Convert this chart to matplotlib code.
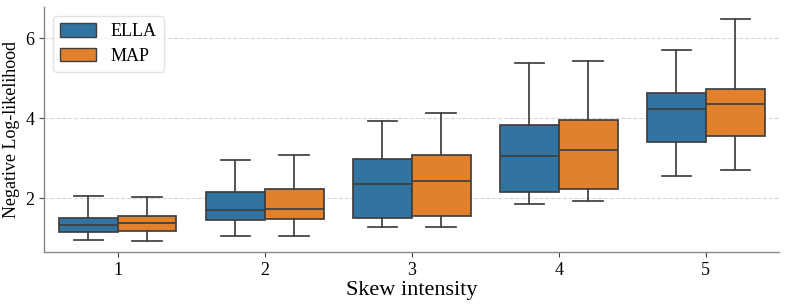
import matplotlib
matplotlib.use("Agg")
import matplotlib.pyplot as plt
from matplotlib.patches import Patch

plt.rcParams['font.family'] = ['Liberation Serif', 'DejaVu Serif']

categories = ["1", "2", "3", "4", "5"]
series = ["ELLA", "MAP"]
colors = ["#3274a1", "#e1812c"]

# whislo, q1, med, q3, whishi per category
ella_whislo = [0.96, 1.04, 1.27, 1.86, 2.56]
ella_q1     = [1.15, 1.44, 1.51, 2.15, 3.41]
ella_med    = [1.32, 1.69, 2.35, 3.06, 4.22]
ella_q3     = [1.49, 2.16, 2.98, 3.83, 4.62]
ella_whishi = [2.04, 2.94, 3.94, 5.38, 5.70]

map_whislo = [0.93, 1.04, 1.28, 1.93, 2.70]
map_q1     = [1.18, 1.48, 1.56, 2.23, 3.56]
map_med    = [1.37, 1.73, 2.43, 3.19, 4.35]
map_q3     = [1.54, 2.23, 3.08, 3.95, 4.73]
map_whishi = [2.03, 3.08, 4.12, 5.43, 6.48]

data = {
    "ELLA": (ella_whislo, ella_q1, ella_med, ella_q3, ella_whishi),
    "MAP": (map_whislo, map_q1, map_med, map_q3, map_whishi),
}

fig = plt.figure(figsize=(7.88, 3.08), dpi=100)
ax = fig.add_axes([0.056, 0.182, 0.933, 0.795])

edge = "#3f3f3f"
width = 0.4
for si, name in enumerate(series):
    wl, q1, md, q3, wh = data[name]
    stats = []
    for i in range(len(categories)):
        stats.append(dict(whislo=wl[i], q1=q1[i], med=md[i], q3=q3[i], whishi=wh[i], fliers=[]))
    pos = [i - 0.2 + si * 0.4 for i in range(len(categories))]
    ax.bxp(stats, positions=pos, widths=width, patch_artist=True, showfliers=False,
           boxprops=dict(facecolor=colors[si], edgecolor=edge, linewidth=1.25),
           medianprops=dict(color=edge, linewidth=1.25),
           whiskerprops=dict(color=edge, linewidth=1.25),
           capprops=dict(color=edge, linewidth=1.25),
           manage_ticks=False, zorder=3)

ax.set_xlim(-0.5, 4.5)
ax.set_ylim(0.65, 6.78)
ax.set_xticks(range(len(categories)))
ax.set_xticklabels(categories)
ax.set_yticks([2, 4, 6])
ax.tick_params(labelsize=13, length=3.5, color="#444444")
ax.yaxis.grid(True, linestyle="--", color="#d6d6d6", linewidth=0.8, zorder=0)
ax.set_axisbelow(True)
for s in ["top", "right"]:
    ax.spines[s].set_visible(False)
for s in ["left", "bottom"]:
    ax.spines[s].set_color("#888888")
    ax.spines[s].set_linewidth(1.0)

ax.set_xlabel("Skew intensity", fontsize=16, labelpad=2)
ax.set_ylabel("Negative Log-likelihood", fontsize=13, labelpad=4)

handles = [Patch(facecolor=colors[i], edgecolor=edge, label=series[i]) for i in range(2)]
leg = ax.legend(handles=handles, loc="upper left", fontsize=13, frameon=True,
                handlelength=2.0, handleheight=0.75, borderpad=0.4, labelspacing=0.4,
                handletextpad=0.8, borderaxespad=0.5, bbox_to_anchor=(0.0, 1.0))
leg.get_frame().set_edgecolor("#dddddd")

fig.savefig("out.png", dpi=100)
